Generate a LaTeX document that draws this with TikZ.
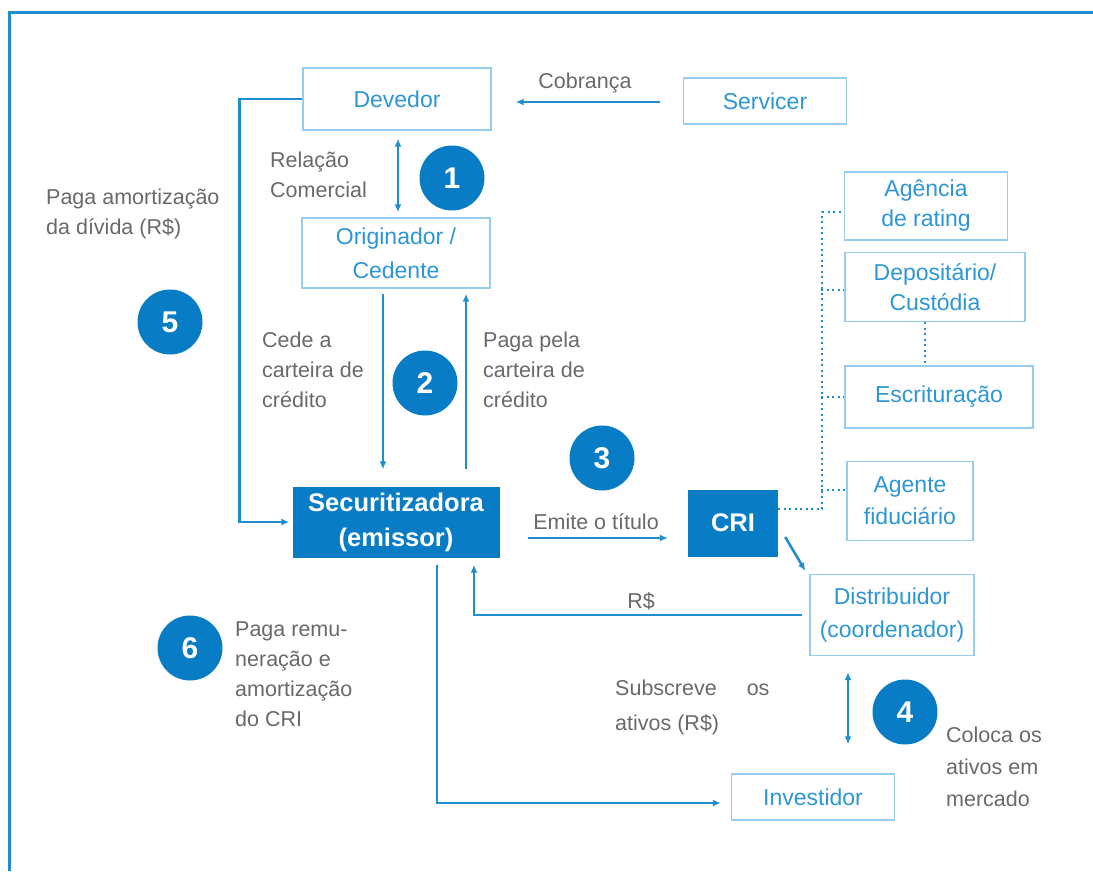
\documentclass[tikz,border=0pt]{standalone}
\usepackage{fontspec}
\setmainfont{Liberation Sans}
\usetikzlibrary{arrows.meta}
\definecolor{azul}{RGB}{8,124,196}
\definecolor{linha}{RGB}{30,142,206}
\definecolor{bordaclara}{RGB}{150,205,235}
\definecolor{textoazul}{RGB}{45,150,212}
\definecolor{cinza}{RGB}{105,105,105}

\begin{document}
\begin{tikzpicture}[x=1pt,y=-1pt,
  caixa/.style={draw=bordaclara,line width=1.4pt,text=textoazul,align=center,inner sep=0pt,font=\fontsize{23}{32}\selectfont},
  caixacheia/.style={fill=azul,text=white,align=center,inner sep=0pt,font=\bfseries\fontsize{25.5}{35}\selectfont},
  rotulo/.style={text=cinza,align=left,inner sep=0pt,font=\fontsize{21.5}{30}\selectfont},
  passo/.style={circle,fill=azul,text=white,minimum size=65pt,inner sep=0pt,font=\bfseries\fontsize{30}{30}\selectfont},
  seta/.style={draw=linha,line width=2.6pt,-{Latex[length=8pt,width=7pt]}},
  seta2/.style={draw=linha,line width=2.6pt,{Latex[length=8pt,width=7pt]}-{Latex[length=8pt,width=7pt]}},
  pontos/.style={draw=linha,line width=2.2pt,dash pattern=on 2pt off 3.5pt}]
\path[use as bounding box] (0,0) rectangle (1093,871);
\draw[linha,line width=3pt] (9,871) -- (9,12) -- (1093,12);

% caixas
\node[caixa,minimum width=188pt,minimum height=62pt] (devedor) at (397,99) {Devedor};
\node[caixa,minimum width=163pt,minimum height=46pt] (servicer) at (765,101) {Servicer};
\node[caixa,minimum width=188pt,minimum height=70pt,font=\fontsize{23}{34}\selectfont] (orig) at (396,253) {Originador /\\Cedente};
\node[caixacheia,minimum width=207pt,minimum height=71pt] (secur) at (396,522) {Securitizadora\\(emissor)};
\node[caixacheia,minimum width=90pt,minimum height=67pt] (cri) at (733,523) {CRI};
\node[caixa,minimum width=163pt,minimum height=68pt,font=\fontsize{23}{30}\selectfont] (agencia) at (926,206) {Agência\\de rating};
\node[caixa,minimum width=180pt,minimum height=69pt,font=\fontsize{23}{30}\selectfont] (deposit) at (935,287) {Depositário/\\Custódia};
\node[caixa,minimum width=188pt,minimum height=62pt] (escrit) at (939,397) {Escrituração};
\node[caixa,minimum width=126pt,minimum height=79pt] (agente) at (910,501) {Agente\\fiduciário};
\node[caixa,minimum width=164pt,minimum height=81pt,font=\fontsize{23}{33}\selectfont] (distr) at (892,615) {Distribuidor\\(coordenador)};
\node[caixa,minimum width=163pt,minimum height=46pt] (invest) at (813,797) {Investidor};

% passos
\node[passo] (p1) at (452,178) {1};
\node[passo] (p2) at (425,383) {2};
\node[passo] (p3) at (602,458) {3};
\node[passo] (p4) at (905,712) {4};
\node[passo] (p5) at (170,322) {5};
\node[passo] (p6) at (190,648) {6};

% textos
\node[rotulo,anchor=south] (tcobr) at (585,93) {Cobrança};
\node[rotulo,anchor=west] (tamort) at (46,214) {Paga amortização\\da dívida (R\$)};
\node[rotulo,anchor=west] (trel) at (270,175) {Relação\\Comercial};
\node[rotulo,anchor=west] (tcede) at (262,370) {Cede a\\carteira de\\crédito};
\node[rotulo,anchor=west] (tpaga) at (483,370) {Paga pela\\carteira de\\crédito};
\node[rotulo,anchor=south] (temite) at (596,530) {Emite o título};
\node[rotulo,anchor=south] (trs) at (641,610) {R\$};
\node[rotulo,anchor=west] (tremu) at (235,674) {Paga remu-\\neração e\\amortização\\do CRI};
\node[rotulo,anchor=west,font=\fontsize{21.5}{35}\selectfont] (tsubs) at (615,707) {Subscreve\hspace{30pt}os\\ativos (R\$)};
\node[rotulo,anchor=west,font=\fontsize{21.5}{32}\selectfont] (tcoloca) at (946,767) {Coloca os\\ativos em\\mercado};

% setas
\draw[seta,shorten <=23pt,shorten >=24pt] ([yshift=-1pt]servicer.west) -- ([yshift=-3pt]devedor.east);
\draw[seta,shorten >=3pt] (devedor.west) -- ++(-63,0) |- (secur.west);
\draw[seta2,shorten <=8pt,shorten >=5pt] ([xshift=1pt]devedor.south) -- ([xshift=2pt]orig.north);
\draw[seta,shorten <=5pt,shorten >=17pt] ([xshift=-13pt]orig.south) -- ([xshift=-13pt]secur.north);
\draw[seta,shorten <=17pt,shorten >=5pt] ([xshift=70pt]secur.north) -- ([xshift=70pt]orig.south);
\draw[seta,shorten <=28pt,shorten >=20pt] ([yshift=-16pt]secur.east) -- ([yshift=-15pt]cri.west);
\draw[seta] ([xshift=7pt,yshift=-14pt]cri.east) -- ([xshift=-4pt,yshift=3pt]distr.north west);
\draw[seta,shorten <=7pt,shorten >=7pt] (distr.west) -| ([xshift=78pt]secur.south);
\draw[seta,shorten <=7pt,shorten >=10pt] ([xshift=41pt]secur.south) |- ([yshift=-6pt]invest.west);
\draw[seta2,shorten <=16pt,shorten >=29pt] ([xshift=-44pt]distr.south) -- ([xshift=-44pt]distr.south |- invest.north);

% pontilhado
\draw[pontos] ([yshift=14pt]cri.east) -- ++(44,0) |- ([yshift=-6pt]agencia.west);
\draw[pontos] ([xshift=-23pt,yshift=-3pt]deposit.west) -- ([yshift=-3pt]deposit.west);
\draw[pontos] ([xshift=-23pt]escrit.west) -- (escrit.west);
\draw[pontos] ([xshift=-25pt,yshift=11pt]agente.west) -- ([yshift=11pt]agente.west);
\draw[pontos] ([xshift=-10pt]deposit.south) -- ([xshift=-14pt]escrit.north);
\end{tikzpicture}
\end{document}
